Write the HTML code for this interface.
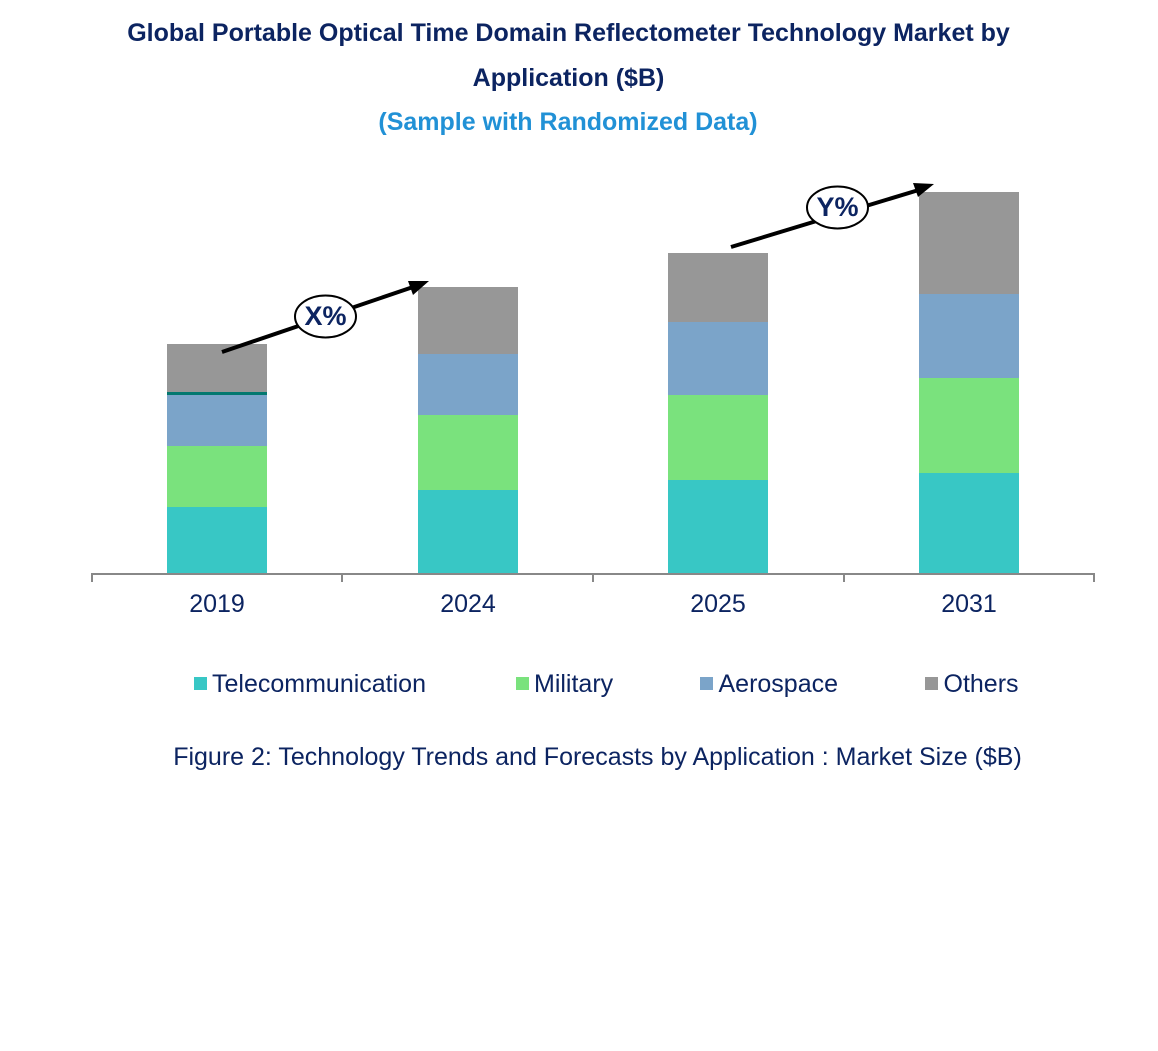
<!DOCTYPE html>
<html>
<head>
<meta charset="utf-8">
<style>
html,body{margin:0;padding:0;background:#fff;}
svg{display:block;}
text{font-family:"Liberation Sans",Arial,sans-serif;}
</style>
</head>
<body>
<svg width="1158" height="1051" viewBox="0 0 1158 1051" xmlns="http://www.w3.org/2000/svg">
<rect width="1158" height="1051" fill="#fff"/>
<!-- Titles -->
<text x="568.5" y="41" text-anchor="middle" font-size="25" font-weight="bold" fill="#0c2461">Global Portable Optical Time Domain Reflectometer Technology Market by</text>
<text x="568.5" y="86" text-anchor="middle" font-size="25" font-weight="bold" fill="#0c2461">Application ($B)</text>
<text x="568" y="130" text-anchor="middle" font-size="25" font-weight="bold" fill="#2191d6">(Sample with Randomized Data)</text>

<!-- Bars 2019 -->
<rect x="167" y="507" width="100" height="67" fill="#38c7c5"/>
<rect x="167" y="446" width="100" height="61" fill="#7ae27d"/>
<rect x="167" y="395" width="100" height="51" fill="#7ba4c9"/>
<rect x="167" y="392" width="100" height="3" fill="#03786f"/>
<rect x="167" y="344" width="100" height="48" fill="#979797"/>
<!-- 2024 -->
<rect x="418" y="490" width="100" height="84" fill="#38c7c5"/>
<rect x="418" y="415" width="100" height="75" fill="#7ae27d"/>
<rect x="418" y="354" width="100" height="61" fill="#7ba4c9"/>
<rect x="418" y="287" width="100" height="67" fill="#979797"/>
<!-- 2025 -->
<rect x="668" y="480" width="100" height="94" fill="#38c7c5"/>
<rect x="668" y="395" width="100" height="85" fill="#7ae27d"/>
<rect x="668" y="322" width="100" height="73" fill="#7ba4c9"/>
<rect x="668" y="253" width="100" height="69" fill="#979797"/>
<!-- 2031 -->
<rect x="919" y="473" width="100" height="101" fill="#38c7c5"/>
<rect x="919" y="378" width="100" height="95" fill="#7ae27d"/>
<rect x="919" y="294" width="100" height="84" fill="#7ba4c9"/>
<rect x="919" y="192" width="100" height="102" fill="#979797"/>

<!-- Axis -->
<line x1="92" y1="574" x2="1094" y2="574" stroke="#888" stroke-width="2"/>
<g stroke="#888" stroke-width="2">
<line x1="92" y1="573" x2="92" y2="582"/>
<line x1="342" y1="573" x2="342" y2="582"/>
<line x1="593" y1="573" x2="593" y2="582"/>
<line x1="844" y1="573" x2="844" y2="582"/>
<line x1="1094" y1="573" x2="1094" y2="582"/>
</g>
<g font-size="25" fill="#0c2461" text-anchor="middle">
<text x="217" y="612">2019</text>
<text x="468" y="612">2024</text>
<text x="718" y="612">2025</text>
<text x="969" y="612">2031</text>
</g>

<!-- Arrows -->
<line x1="222" y1="352" x2="416" y2="286" stroke="#000" stroke-width="4"/>
<polygon points="429,281 413,295 408,281" fill="#000"/>
<ellipse cx="325.5" cy="316.5" rx="30.5" ry="21" fill="#fff" stroke="#000" stroke-width="2"/>
<text x="325.5" y="325" text-anchor="middle" font-size="27" font-weight="bold" fill="#0c2461">X%</text>

<line x1="731" y1="247" x2="922" y2="189" stroke="#000" stroke-width="4"/>
<polygon points="934,184 918,197 913,183" fill="#000"/>
<ellipse cx="837.5" cy="207.5" rx="30.5" ry="21" fill="#fff" stroke="#000" stroke-width="2"/>
<text x="837.5" y="216" text-anchor="middle" font-size="27" font-weight="bold" fill="#0c2461">Y%</text>

<!-- Legend -->
<rect x="194" y="677" width="13" height="13" fill="#38c7c5"/>
<text x="212" y="692" font-size="25" fill="#0c2461">Telecommunication</text>
<rect x="516" y="677" width="13" height="13" fill="#7ae27d"/>
<text x="534" y="692" font-size="25" fill="#0c2461">Military</text>
<rect x="700" y="677" width="13" height="13" fill="#7ba4c9"/>
<text x="718.5" y="692" font-size="25" fill="#0c2461">Aerospace</text>
<rect x="925" y="677" width="13" height="13" fill="#979797"/>
<text x="943.5" y="692" font-size="25" fill="#0c2461">Others</text>

<!-- Caption -->
<text x="597.5" y="765" text-anchor="middle" font-size="25" fill="#0c2461">Figure 2: Technology Trends and Forecasts by Application : Market Size ($B)</text>
</svg>
</body>
</html>
